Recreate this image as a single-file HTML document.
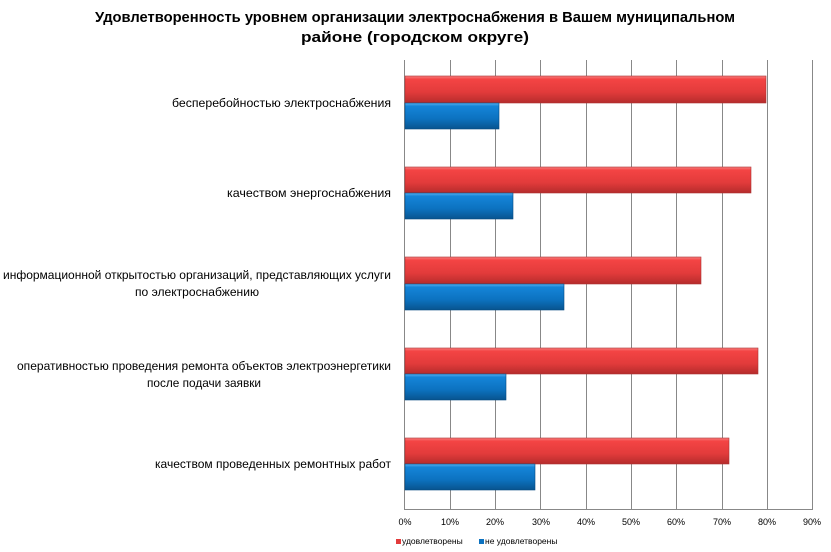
<!DOCTYPE html>
<html><head><meta charset="utf-8"><style>body{margin:0;background:#fff}svg{display:block}</style></head>
<body>
<svg width="831" height="552" xmlns="http://www.w3.org/2000/svg" font-family="Liberation Sans, sans-serif">
<defs>
<linearGradient id="r" x1="0" y1="0" x2="0" y2="1"><stop offset="0" stop-color="#f78080"/><stop offset="0.12" stop-color="#f44444"/><stop offset="0.6" stop-color="#e23b3b"/><stop offset="1" stop-color="#b52c2c"/></linearGradient>
<linearGradient id="b" x1="0" y1="0" x2="0" y2="1"><stop offset="0" stop-color="#5ab0ee"/><stop offset="0.12" stop-color="#1585d8"/><stop offset="0.6" stop-color="#0c72c0"/><stop offset="1" stop-color="#08548f"/></linearGradient>
</defs>
<text x="415" y="22" text-anchor="middle" font-weight="bold" font-size="15" textLength="640" lengthAdjust="spacingAndGlyphs">Удовлетворенность уровнем организации электроснабжения в Вашем муниципальном</text>
<text x="415" y="42" text-anchor="middle" font-weight="bold" font-size="15" textLength="228" lengthAdjust="spacingAndGlyphs">районе (городском округе)</text>
<g stroke="#888" stroke-width="1">
<line x1="450.5" y1="60" x2="450.5" y2="509"/><line x1="495.5" y1="60" x2="495.5" y2="509"/><line x1="540.5" y1="60" x2="540.5" y2="509"/><line x1="586.5" y1="60" x2="586.5" y2="509"/><line x1="631.5" y1="60" x2="631.5" y2="509"/><line x1="676.5" y1="60" x2="676.5" y2="509"/><line x1="722.5" y1="60" x2="722.5" y2="509"/><line x1="767.5" y1="60" x2="767.5" y2="509"/><line x1="812.5" y1="60" x2="812.5" y2="509"/>
<line x1="404.5" y1="60" x2="404.5" y2="509"/><line x1="404" y1="509.5" x2="813" y2="509.5"/>
</g>
<g stroke-width="0.6">
<rect x="405" y="76" width="361" height="27" fill="url(#r)" stroke="#a33"/><rect x="405" y="103" width="94" height="26" fill="url(#b)" stroke="#064a80"/>
<rect x="405" y="167" width="346" height="26" fill="url(#r)" stroke="#a33"/><rect x="405" y="193" width="108" height="26" fill="url(#b)" stroke="#064a80"/>
<rect x="405" y="257" width="296" height="27" fill="url(#r)" stroke="#a33"/><rect x="405" y="284" width="159" height="26" fill="url(#b)" stroke="#064a80"/>
<rect x="405" y="348" width="353" height="26" fill="url(#r)" stroke="#a33"/><rect x="405" y="374" width="101" height="26" fill="url(#b)" stroke="#064a80"/>
<rect x="405" y="438" width="324" height="26" fill="url(#r)" stroke="#a33"/><rect x="405" y="464" width="130" height="26" fill="url(#b)" stroke="#064a80"/>
</g>
<g font-size="12" fill="#000">
<text x="391" y="107" text-anchor="end" textLength="219" lengthAdjust="spacingAndGlyphs">бесперебойностью электроснабжения</text>
<text x="391" y="197" text-anchor="end" textLength="164" lengthAdjust="spacingAndGlyphs">качеством энергоснабжения</text>
<text x="197" y="279" text-anchor="middle" textLength="388" lengthAdjust="spacingAndGlyphs">информационной открытостью организаций, представляющих услуги</text>
<text x="197" y="296" text-anchor="middle" textLength="124" lengthAdjust="spacingAndGlyphs">по электроснабжению</text>
<text x="204" y="370" text-anchor="middle" textLength="374" lengthAdjust="spacingAndGlyphs">оперативностью проведения  ремонта объектов  электроэнергетики</text>
<text x="204" y="387" text-anchor="middle" textLength="114" lengthAdjust="spacingAndGlyphs">после подачи заявки</text>
<text x="391" y="468" text-anchor="end" textLength="236" lengthAdjust="spacingAndGlyphs">качеством проведенных ремонтных работ</text>
</g>
<g font-size="9" fill="#000" text-anchor="middle">
<text x="405" y="525">0%</text><text x="450" y="525">10%</text><text x="495" y="525">20%</text><text x="541" y="525">30%</text><text x="586" y="525">40%</text><text x="631" y="525">50%</text><text x="676" y="525">60%</text><text x="722" y="525">70%</text><text x="767" y="525">80%</text><text x="812" y="525">90%</text>
</g>
<rect x="396" y="539" width="5" height="5" fill="#e23b3b"/>
<text x="402" y="544" font-size="8.5">удовлетворены</text>
<rect x="479" y="539" width="5" height="5" fill="#0c72c0"/>
<text x="485" y="544" font-size="8.5">не удовлетворены</text>
</svg>
</body></html>
